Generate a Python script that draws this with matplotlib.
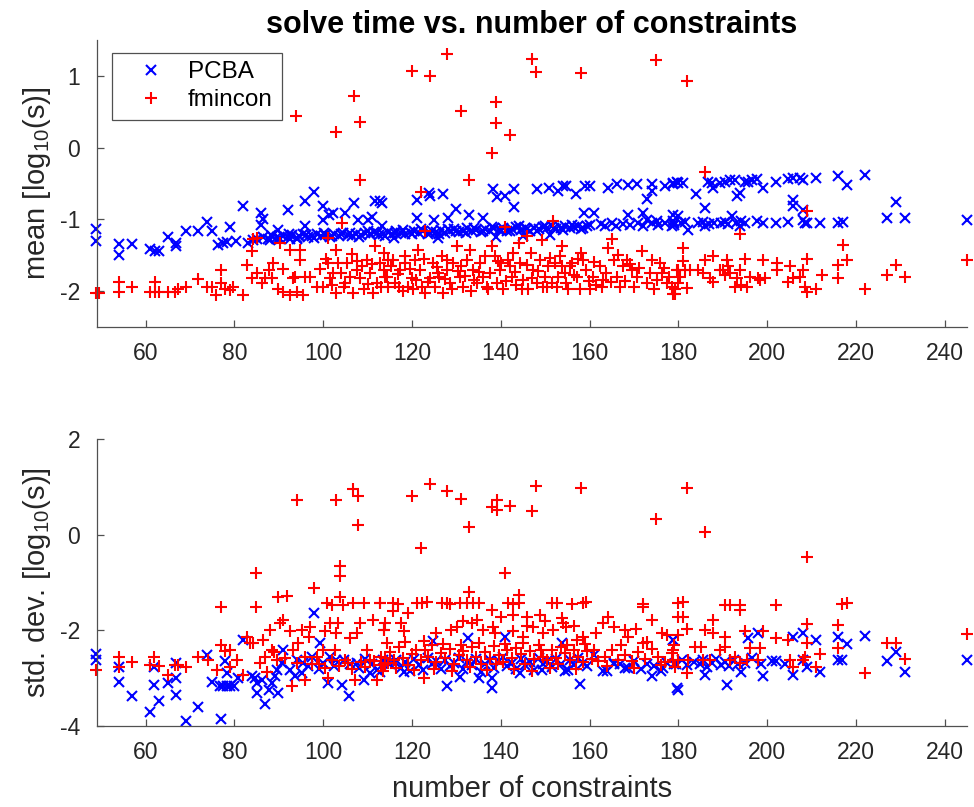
"""Solve time vs. number of constraints: mean and std. dev. of log10 solve time."""

import matplotlib
matplotlib.use("Agg")
import matplotlib.pyplot as plt
import numpy as np

# (number of constraints, log10 seconds)
top_pcba = [
    (48.8, -1.14), (48.8, -1.30), (54.1, -1.35), (54.1, -1.50), (57.0, -1.35),
    (61.0, -1.41), (62.1, -1.44), (63.0, -1.44), (65.0, -1.25), (66.9, -1.33),
    (66.9, -1.37), (69.0, -1.16), (71.7, -1.16), (73.9, -1.04), (75.0, -1.16),
    (76.4, -1.36), (77.5, -1.33), (78.3, -1.32), (79.0, -1.11), (80.3, -1.30),
    (82.0, -0.82), (83.1, -1.33), (84.3, -1.29), (85.9, -0.91), (86.5, -1.00),
    (86.1, -1.08), (88.0, -1.29), (89.5, -1.25), (89.9, -1.15), (92.0, -0.87),
    (92.5, -1.27), (94.0, -1.28), (95.9, -0.75), (95.9, -1.09), (97.9, -0.62),
    (100.0, -0.81), (100.0, -1.01), (101.4, -0.94), (102.2, -0.91), (104.9, -0.91),
    (107.0, -0.78), (107.9, -1.01), (110.2, -1.01), (110.9, -0.97), (111.7, -0.75),
    (112.8, -0.75), (113.2, -1.09), (113.2, -0.77),
    (85.0, -1.27), (86.5, -1.25), (87.5, -1.28), (88.5, -1.24), (90.0, -1.26),
    (91.0, -1.23), (92.0, -1.25), (93.0, -1.22), (94.5, -1.24), (95.5, -1.21),
    (96.5, -1.25), (97.5, -1.23), (98.5, -1.20), (99.5, -1.24), (100.5, -1.22),
    (101.5, -1.25), (102.5, -1.21), (103.5, -1.23), (104.5, -1.19), (105.5, -1.22),
    (106.5, -1.24), (107.5, -1.20), (108.5, -1.22), (109.5, -1.19), (110.5, -1.21),
    (111.5, -1.18), (112.5, -1.22), (113.5, -1.20), (114.5, -1.18), (115.5, -1.21),
    (116.5, -1.17), (117.5, -1.19), (118.5, -1.21), (119.5, -1.18), (120.5, -1.16),
    (121.5, -1.19), (122.5, -1.17), (123.5, -1.20), (124.5, -1.16), (125.5, -1.18),
    (126.5, -1.15), (127.5, -1.19), (128.5, -1.17), (129.5, -1.14), (130.5, -1.18),
    (131.5, -1.16), (132.5, -1.13), (133.5, -1.17), (134.5, -1.15), (135.5, -1.18),
    (136.5, -1.14), (137.5, -1.16), (138.5, -1.13), (139.5, -1.15), (140.5, -1.12),
    (141.5, -1.16), (142.5, -1.14), (143.5, -1.11), (144.5, -1.15), (145.5, -1.13),
    (146.5, -1.16), (147.5, -1.12), (148.5, -1.14), (149.5, -1.11), (150.5, -1.13),
    (151.5, -1.10), (152.5, -1.14), (153.5, -1.12), (154.5, -1.10), (155.5, -1.13),
    (156.5, -1.11), (157.5, -1.09), (158.5, -1.12), (159.5, -1.10),
    (88.2, -1.22), (90.3, -1.28), (92.4, -1.21), (94.2, -1.26), (96.1, -1.22),
    (98.0, -1.26), (100.1, -1.19), (102.0, -1.24), (104.1, -1.21), (106.0, -1.19),
    (108.1, -1.25), (110.0, -1.17), (112.1, -1.19), (114.0, -1.23), (116.1, -1.19),
    (118.0, -1.15), (120.1, -1.21), (122.0, -1.14), (124.1, -1.19), (126.0, -1.21),
    (128.1, -1.14), (130.0, -1.16), (132.1, -1.19), (134.0, -1.12), (136.1, -1.17),
    (138.0, -1.11), (140.1, -1.15), (142.0, -1.17), (144.1, -1.10), (146.0, -1.14),
    (148.1, -1.16), (150.0, -1.09), (152.1, -1.12), (154.0, -1.15), (156.1, -1.08),
    (158.0, -1.14), (160.0, -1.08),
    (116.0, -1.26), (125.9, -1.26), (139.0, -1.25), (145.0, -1.24), (151.0, -1.22),
    (162.5, -1.07), (163.5, -1.09), (165.0, -1.06), (166.0, -1.10), (167.5, -1.07),
    (169.0, -1.08), (171.0, -1.06), (172.0, -1.09), (174.0, -1.05), (175.5, -1.08),
    (177.0, -1.06), (178.5, -1.09),
    (178.9, -1.03), (178.9, -0.94), (182.2, -1.15), (186.0, -1.10), (192.0, -0.96),
    (194.2, -1.03), (193.9, -1.09), (208.1, -1.01), (226.9, -0.98), (231.0, -0.98),
    (244.9, -1.01),
    (179.0, -1.05), (180.5, -1.06), (181.5, -1.04), (184.5, -1.06), (185.5, -1.04),
    (187.0, -1.07), (188.0, -1.05), (189.5, -1.06), (190.5, -1.04), (191.2, -1.07),
    (193.0, -1.05), (195.0, -1.06), (197.8, -1.03), (199.0, -1.05), (202.0, -1.05),
    (204.8, -1.04), (208.5, -1.05), (209.0, -1.06), (212.0, -1.05), (216.0, -1.05),
    (217.0, -1.04),
    (121.1, -0.73), (121.1, -0.99), (123.9, -0.64), (124.1, -0.68), (126.9, -0.65),
    (125.0, -1.01), (129.9, -0.86), (128.2, -0.99), (132.9, -0.94), (136.1, -0.99),
    (138.2, -0.58), (139.1, -0.69), (141.0, -0.68), (143.0, -0.58), (143.0, -0.83),
    (148.1, -0.58), (150.9, -0.57), (153.0, -0.61), (154.1, -0.53), (154.8, -0.53),
    (157.0, -0.65), (159.0, -0.54), (160.0, -0.54), (158.8, -0.91), (160.9, -0.91),
    (164.1, -0.56), (166.1, -0.51), (168.7, -0.52), (170.6, -0.51), (174.0, -0.51),
    (174.0, -0.61), (172.9, -0.72), (168.7, -0.94), (172.1, -0.91), (172.9, -1.01),
    (175.1, -1.03), (177.0, -0.54), (178.9, -0.49), (179.8, -0.48), (179.0, -1.08),
    (180.0, -0.96),
    (178.9, -0.51), (180.0, -0.50), (181.1, -0.50), (183.9, -0.65), (186.7, -0.48),
    (187.5, -0.50), (187.9, -0.57), (189.4, -0.49), (190.5, -0.48), (191.6, -0.45),
    (192.7, -0.46), (193.1, -0.68), (193.9, -0.63), (195.0, -0.48), (195.7, -0.48),
    (196.5, -0.45), (197.8, -0.44), (199.0, -0.56), (202.0, -0.48), (204.8, -0.44),
    (205.9, -0.43), (207.4, -0.43), (208.1, -0.45), (210.9, -0.42), (216.0, -0.40),
    (218.0, -0.52), (222.0, -0.39),
    (205.9, -0.73), (205.9, -0.82), (208.1, -0.87), (186.0, -0.85), (229.0, -0.76),
]

top_fmincon = [
    (48.8, -2.03), (49.5, -2.03), (54.1, -1.88), (54.1, -2.02), (57.0, -1.95),
    (61.0, -2.02), (62.1, -1.88), (62.1, -2.02), (63.0, -2.02), (65.0, -2.02),
    (66.6, -2.02), (67.2, -1.98), (69.0, -1.94), (71.9, -1.84), (73.8, -1.95),
    (74.9, -1.95), (75.9, -2.06), (77.0, -1.71), (77.0, -1.89), (77.9, -1.98),
    (79.0, -1.99), (79.8, -1.94), (82.0, -2.06), (82.8, -1.64), (83.9, -1.45),
    (84.3, -1.28), (85.0, -1.26), (83.9, -1.82), (85.0, -1.75), (86.2, -1.89),
    (86.9, -1.82), (87.7, -1.71), (88.4, -1.82), (88.6, -1.61), (89.9, -1.97),
    (91.0, -2.01), (92.5, -2.06), (94.0, -2.01), (95.5, -2.06), (90.3, -1.33),
    (91.0, -1.70), (92.5, -1.43), (93.3, -1.82), (93.7, -1.80), (94.8, -1.43),
    (94.8, -1.57), (95.9, -1.80), (97.0, -1.80), (93.9, 0.44), (101.0, -1.26),
    (102.9, 0.22), (107.0, 0.72), (108.2, 0.36), (108.2, -0.46),
    (98.5, -1.94), (100.0, -1.94), (101.2, -1.61), (101.5, -1.82), (102.3, -1.75),
    (103.0, -2.03), (103.0, -1.43), (103.4, -1.61), (104.2, -1.06), (104.6, -1.94),
    (105.3, -1.61), (106.0, -1.80), (106.8, -2.03), (107.6, -1.71), (107.6, -1.59),
    (108.3, -1.82), (109.1, -1.98), (109.8, -1.57), (110.6, -1.75), (111.3, -2.03),
    (111.7, -1.38), (112.1, -1.89), (112.8, -1.61), (113.6, -1.71), (114.3, -1.80),
    (114.7, -1.57),
    (99.2, -1.70), (100.6, -1.55), (102.0, -1.92), (104.0, -1.75), (105.0, -1.89),
    (106.4, -1.48), (108.8, -1.66), (110.0, -1.90), (111.0, -1.62), (113.0, -1.94),
    (113.6, -1.47), (113.9, -1.80), (115.8, -1.57), (116.2, -1.89), (117.3, -1.71),
    (118.4, -1.61), (119.2, -1.94), (119.9, -1.82), (120.7, -1.57), (121.4, -1.43),
    (121.8, -1.71), (122.2, -1.94), (122.9, -2.03), (124.1, -1.82), (124.8, -1.61),
    (125.2, -1.94), (125.9, -1.75), (126.7, -1.52), (127.1, -2.03), (127.8, -1.71),
    (128.6, -1.89), (129.3, -1.61), (130.1, -1.38), (130.8, -1.80), (131.6, -1.94),
    (132.3, -1.57), (133.1, -1.43), (133.8, -1.71), (134.6, -1.89), (135.3, -1.61),
    (136.1, -1.80), (136.8, -1.94), (138.0, -1.38), (138.7, -1.52), (139.1, -1.89),
    (139.8, -1.71), (140.6, -1.98), (141.7, -1.57), (142.5, -1.80), (142.8, -1.47),
    (144.0, -1.33), (144.3, -1.61), (145.1, -1.85), (145.8, -1.24), (146.2, -1.98),
    (147.3, -1.71), (148.1, -1.89), (148.8, -1.57), (149.2, -1.29), (150.0, -1.80),
    (150.7, -1.66), (151.5, -1.89), (152.2, -1.61), (153.3, -1.52), (153.7, -1.38),
    (154.5, -1.75), (154.8, -1.89), (156.0, -1.61), (157.1, -1.80), (157.8, -1.98),
    (158.6, -1.57), (159.3, -1.71), (160.1, -1.98), (160.8, -1.80), (162.4, -1.66),
    (163.1, -1.85), (164.2, -1.40), (165.4, -1.57), (166.1, -1.80), (166.9, -1.94),
    (168.4, -1.57), (169.5, -1.71), (170.6, -1.80), (171.7, -1.45), (172.9, -1.89),
    (174.0, -1.57), (175.1, -1.85), (176.2, -1.75), (177.4, -1.89), (178.5, -1.94),
    (179.2, -2.05), (180.0, -1.71),
    (117.0, -1.94), (121.0, -1.85), (126.0, -1.80), (131.0, -1.66), (137.5, -1.75),
    (143.5, -1.92), (149.5, -1.94), (155.5, -1.66), (161.5, -1.92), (167.5, -1.66),
    (118.5, -1.52), (128.0, -1.57), (134.0, -1.85), (140.0, -1.61), (146.8, -1.47),
    (152.8, -1.80), (158.0, -1.47), (163.8, -1.75), (170.0, -1.94), (175.8, -1.61),
    (114.5, -1.95), (115.2, -1.66), (116.8, -1.77), (118.0, -2.00), (119.5, -1.69),
    (120.3, -1.98), (122.8, -1.56), (123.6, -1.88), (125.6, -1.67), (127.4, -1.84),
    (129.0, -1.98), (130.4, -1.73), (132.0, -1.79), (133.4, -2.00), (135.0, -1.74),
    (136.4, -1.52), (137.2, -1.98), (139.4, -1.59), (141.2, -1.86), (142.0, -1.66),
    (143.2, -1.74), (144.8, -1.98), (146.0, -1.64), (147.0, -1.82), (148.4, -1.72),
    (150.4, -1.95), (151.0, -1.54), (152.6, -1.94), (153.9, -1.65), (155.1, -1.98),
    (156.4, -1.78), (157.4, -1.55), (159.8, -1.86), (161.0, -1.60), (162.8, -1.94),
    (164.8, -1.88), (166.4, -1.50), (168.0, -1.86), (169.0, -1.62), (171.2, -1.68),
    (173.5, -1.75), (174.6, -1.98), (176.8, -1.68), (178.0, -1.80),
    (120.0, 1.07), (124.1, 1.00), (128.0, 1.30), (131.0, 0.51), (132.9, -0.46),
    (138.9, 0.64), (138.9, 0.34), (142.1, 0.18), (138.0, -0.07), (147.0, 1.23),
    (147.9, 1.06), (158.0, 1.04), (175.0, 1.22), (122.0, -0.62), (122.9, -1.17),
    (141.0, -1.11), (151.8, -1.02), (165.0, -1.27), (182.0, 0.93), (186.0, -0.34),
    (208.9, -0.88), (193.9, -1.20),
    (180.95, -1.40), (180.95, -1.59), (179.2, -1.98), (178.85, -2.05), (180.0, -1.89),
    (181.9, -1.96), (181.5, -1.71), (180.35, -1.80), (186.0, -1.57), (187.9, -1.51),
    (185.6, -1.75), (187.1, -1.82), (187.9, -1.87), (190.9, -1.57), (191.2, -1.66),
    (191.6, -1.75), (190.1, -1.71), (192.7, -1.94), (193.9, -1.71), (195.0, -1.56),
    (195.4, -1.94), (196.1, -1.80), (198.0, -1.82), (198.4, -1.85), (199.1, -1.57),
    (199.5, -1.82), (202.1, -1.61), (202.1, -1.71), (205.1, -1.66), (204.8, -1.87),
    (205.9, -1.82), (207.4, -1.80), (208.1, -1.71), (208.5, -1.94), (208.9, -1.56),
    (211.1, -1.98), (208.9, -2.01), (212.3, -1.78), (216.0, -1.64), (216.0, -1.82),
    (217.1, -1.36), (218.0, -1.57), (222.0, -1.98), (226.9, -1.78), (229.0, -1.64),
    (231.0, -1.81), (245.1, -1.57),
    (179.6, -1.71), (182.6, -1.71), (184.5, -1.71), (189.4, -1.71), (190.5, -1.78),
    (193.1, -1.82), (194.2, -1.92),
]

bot_pcba = [
    (48.8, -2.50), (48.8, -2.62), (54.1, -2.77), (54.1, -3.08), (57.0, -3.38),
    (61.0, -3.70), (62.0, -2.77), (62.0, -3.15), (63.0, -3.47), (65.0, -3.10),
    (66.9, -2.69), (66.9, -3.00), (66.9, -3.36), (69.0, -3.89), (71.9, -3.61),
    (73.8, -2.51), (75.0, -3.08), (77.0, -3.85), (76.8, -3.17), (77.5, -3.17),
    (78.3, -3.17), (79.0, -3.16), (79.9, -3.16), (77.9, -2.65), (78.3, -2.90),
    (80.9, -3.00), (82.0, -2.20),
    (83.9, -2.96), (84.7, -3.00), (85.0, -3.31), (85.0, -3.10), (86.2, -3.04),
    (86.9, -3.54), (87.7, -3.24), (88.4, -3.10), (89.2, -2.96), (89.9, -3.31),
    (89.5, -2.83), (90.7, -2.69), (91.0, -2.41), (92.5, -2.83), (93.7, -2.96),
    (95.2, -2.90), (95.5, -2.69), (98.0, -1.64), (99.3, -2.27), (100.0, -2.69),
    (101.0, -3.10), (103.0, -2.62), (104.2, -3.14), (105.9, -3.38), (107.6, -2.69),
    (109.1, -3.04), (110.6, -2.90), (112.1, -2.83), (112.8, -2.86), (114.7, -2.69),
    (94.0, -2.62), (96.5, -2.75), (97.5, -2.55), (99.0, -2.80), (101.5, -2.55),
    (102.5, -2.75), (104.8, -2.62), (106.0, -2.70), (108.0, -2.78), (109.5, -2.60),
    (111.0, -2.70), (113.5, -2.62),
    (115.0, -2.70), (116.5, -2.62), (117.5, -2.78), (118.5, -2.66), (119.5, -2.85),
    (120.5, -2.60), (121.5, -2.72), (122.5, -2.82), (123.5, -2.58), (124.5, -2.70),
    (125.5, -2.65), (126.5, -2.80), (127.5, -2.62), (128.5, -2.74), (129.5, -2.68),
    (130.5, -2.57), (131.5, -2.80), (132.5, -2.66), (133.5, -2.72), (134.5, -2.60),
    (135.5, -2.86), (136.5, -2.70), (137.5, -2.62), (138.5, -2.78), (139.5, -2.65),
    (140.5, -2.55), (141.5, -2.74), (142.5, -2.68), (143.5, -2.80), (144.5, -2.60),
    (145.5, -2.72), (146.5, -2.66), (147.5, -2.82), (148.5, -2.58), (149.5, -2.70),
    (150.5, -2.64), (151.5, -2.77), (152.5, -2.60), (153.5, -2.70), (154.5, -2.84),
    (155.5, -2.62), (156.5, -2.72), (157.5, -2.58), (158.5, -2.68), (159.5, -2.75),
    (161.0, -2.52), (164.0, -2.85), (165.5, -2.70), (166.8, -2.70), (168.0, -2.78),
    (170.0, -2.65), (171.5, -2.80), (173.0, -2.70), (174.5, -2.75), (176.0, -2.85),
    (177.5, -2.68), (179.0, -2.70),
    (127.8, -3.17), (138.0, -3.21), (138.0, -3.00), (157.8, -3.12), (179.6, -3.21),
    (178.9, -2.20), (141.0, -2.13), (132.7, -2.16), (124.8, -2.23), (135.0, -3.00),
    (130.8, -2.97), (118.1, -2.86), (144.3, -2.90), (149.2, -2.83), (153.7, -2.27),
    (155.2, -2.83), (163.1, -2.84), (165.4, -2.69), (168.7, -2.79), (174.0, -2.96),
    (176.6, -2.79),
    (178.85, -2.20), (180.0, -3.24), (186.0, -2.93), (190.9, -3.14), (198.0, -2.06),
    (195.7, -2.16), (199.0, -2.95), (205.9, -2.13), (208.1, -2.06), (210.9, -2.20),
    (216.0, -2.13), (218.0, -2.29), (222.0, -2.11), (229.0, -2.46), (226.9, -2.65),
    (231.0, -2.86), (244.9, -2.62), (205.9, -2.93), (208.9, -2.76), (211.9, -2.86),
    (216.0, -2.62), (216.8, -2.62), (202.0, -2.65), (208.1, -2.62), (194.0, -2.86),
    (179.5, -2.70), (180.8, -2.62), (182.0, -2.72), (183.5, -2.66), (184.8, -2.70),
    (185.5, -2.62), (186.5, -2.76), (187.5, -2.68), (188.5, -2.60), (189.5, -2.72),
    (190.5, -2.66), (191.5, -2.74), (192.5, -2.62), (193.5, -2.70), (195.0, -2.68),
    (196.5, -2.58), (198.5, -2.70), (201.0, -2.64), (204.0, -2.70),
]

bot_fmincon = [
    (48.8, -2.83), (54.1, -2.55), (54.1, -2.77), (57.0, -2.67), (61.0, -2.72),
    (62.0, -2.55), (63.0, -2.74), (65.0, -2.93), (66.6, -2.72), (67.4, -2.72),
    (69.0, -2.76), (71.9, -2.55), (74.1, -2.62), (76.0, -2.83), (77.0, -1.50),
    (77.0, -2.30), (77.9, -2.44), (79.0, -2.41), (79.0, -2.76), (80.5, -2.62),
    (82.0, -2.93), (82.8, -2.13), (83.5, -2.27), (84.3, -2.27), (84.9, -0.80),
    (84.9, -1.50), (85.8, -2.69), (86.5, -2.20), (86.9, -2.55), (87.3, -2.86),
    (88.0, -1.99), (88.4, -2.41), (89.5, -2.62), (89.9, -1.29), (90.3, -1.85),
    (91.0, -1.78), (91.8, -1.28), (92.5, -2.02), (92.9, -3.17), (93.3, -2.41),
    (94.0, -2.69), (94.4, -2.27), (95.2, -1.99), (95.9, -3.03), (96.7, -2.13),
    (97.0, -1.92), (98.0, -1.12), (98.5, -2.55), (100.0, -2.41), (100.4, -2.02),
    (100.8, -1.43), (101.2, -3.00), (101.5, -1.85), (101.9, -1.47), (102.7, -2.41),
    (103.0, -2.06), (103.4, -1.85), (103.9, -1.29), (103.9, -0.87), (103.9, -0.66),
    (104.5, -1.47), (104.9, -2.62), (106.0, -2.16), (106.8, -1.43), (107.2, -3.03),
    (107.6, -2.06), (108.3, -1.85), (109.1, -1.43), (109.8, -2.41), (110.6, -2.62),
    (111.3, -1.78), (112.1, -3.03), (112.8, -1.43), (113.6, -1.99), (114.3, -2.27),
    (114.7, -2.69),
    (94.0, 0.73), (102.9, 0.74), (106.8, 0.95), (107.9, 0.81), (107.9, 0.21),
    (99.0, -2.70), (100.5, -2.78), (102.0, -2.62), (103.5, -2.74), (105.5, -2.68),
    (106.5, -2.80), (108.5, -2.66), (109.5, -2.76), (111.5, -2.64), (113.0, -2.72),
    (114.0, -2.58), (96.0, -2.55), (97.5, -2.70), (91.5, -2.58), (89.0, -2.45),
    (120.0, 0.82), (124.1, 1.06), (128.0, 0.91), (131.0, 0.745), (132.9, 0.17),
    (122.0, -0.27), (138.0, 0.59), (139.1, 0.73), (139.1, 0.52), (142.1, 0.60),
    (147.0, 0.50), (147.9, 1.02), (158.0, 0.975), (175.0, 0.33), (141.0, -0.80),
    (132.9, -1.19),
    (112.8, -1.43), (115.8, -1.43), (116.9, -1.45), (121.1, -1.42), (122.2, -1.43),
    (123.3, -1.41), (126.7, -1.43), (127.8, -1.43), (128.6, -1.44), (130.8, -1.42),
    (132.3, -1.43), (133.8, -1.43), (135.0, -1.42), (141.7, -1.43), (142.8, -1.45),
    (144.0, -1.42), (151.5, -1.43), (152.6, -1.42), (156.0, -1.44), (158.6, -1.43),
    (159.3, -1.41), (172.1, -1.45), (180.0, -1.43),
    (144.0, -1.26), (115.8, -1.60), (119.2, -1.64), (138.0, -1.57), (142.8, -1.67),
    (145.8, -1.71), (148.8, -1.67), (153.7, -1.74), (174.0, -1.78), (172.1, -1.50),
    (113.6, -1.99), (113.9, -1.85), (118.1, -2.02), (122.6, -2.23), (128.9, -1.99),
    (130.1, -1.92), (133.5, -1.85), (134.6, -1.78), (138.3, -1.92), (138.7, -2.06),
    (142.8, -2.02), (145.1, -2.13), (147.3, -1.92), (149.6, -2.06), (151.8, -1.99),
    (154.1, -1.85), (154.8, -1.92), (157.1, -2.20), (158.6, -2.13), (163.1, -1.85),
    (164.2, -1.71), (165.4, -1.92), (168.0, -1.99), (168.7, -2.13), (172.1, -2.27),
    (176.2, -2.06), (180.0, -1.71),
    (117.5, -1.85), (125.5, -2.05), (131.5, -1.80), (136.0, -2.00), (140.0, -1.72),
    (146.0, -1.90), (150.0, -1.80), (156.5, -1.90), (161.5, -2.05), (170.5, -1.98),
    (177.5, -2.10),
    (113.0, -2.55), (114.0, -2.70), (115.0, -2.45), (116.0, -2.62), (117.0, -2.35),
    (118.0, -2.58), (119.0, -2.72), (120.0, -2.50), (121.0, -2.40), (122.0, -2.62),
    (122.8, -3.00), (123.5, -2.55), (124.5, -2.30), (125.5, -2.66), (126.5, -2.48),
    (127.5, -2.58), (128.5, -2.38), (129.5, -2.70), (130.5, -2.52), (131.5, -2.44),
    (132.5, -2.62), (133.5, -2.34), (134.5, -2.56), (135.5, -2.70), (136.5, -2.46),
    (137.5, -2.60), (138.5, -2.32), (139.5, -2.52), (140.5, -2.66), (141.5, -2.42),
    (142.5, -2.58), (143.5, -2.36), (144.5, -2.50), (145.5, -2.70), (146.5, -2.44),
    (147.5, -2.60), (148.5, -2.30), (149.5, -2.55), (150.5, -2.62), (151.5, -2.40),
    (152.5, -2.58), (153.5, -2.34), (154.5, -2.48), (155.5, -2.62), (156.5, -2.42),
    (157.5, -2.56), (158.5, -2.66), (159.5, -2.44), (160.5, -2.60), (162.0, -2.65),
    (163.5, -2.55), (165.0, -2.40), (166.5, -2.62), (168.0, -2.52), (169.5, -2.65),
    (171.0, -2.45), (172.5, -2.60), (174.0, -2.38), (175.5, -2.55), (177.0, -2.66),
    (178.5, -2.48), (180.0, -2.62),
    (113.5, -2.85), (116.5, -2.78), (118.5, -2.25), (120.5, -2.82), (123.0, -2.42),
    (125.0, -2.80), (127.0, -2.28), (129.0, -2.84), (131.0, -2.30), (133.0, -2.76),
    (135.0, -2.26), (137.0, -2.82), (139.0, -2.70), (141.0, -2.28), (143.0, -2.80),
    (145.0, -2.26), (147.0, -2.84), (149.0, -2.42), (151.0, -2.78), (153.0, -2.70),
    (155.0, -2.30), (157.0, -2.80), (159.0, -2.28), (161.0, -2.40), (164.0, -2.74),
    (167.0, -2.30), (170.0, -2.78), (173.0, -2.25), (176.0, -2.72), (179.0, -2.30),
    (182.0, 0.975), (186.0, 0.07), (208.9, -0.47),
    (180.95, -1.40), (180.95, -1.71), (182.0, -1.97), (187.9, -1.78), (190.5, -1.47),
    (191.6, -1.47), (193.9, -1.47), (193.9, -1.57), (202.0, -1.47), (216.8, -1.45),
    (217.9, -1.42), (208.9, -1.87), (216.0, -1.88), (245.1, -2.07), (186.0, -1.99),
    (187.9, -2.06), (180.0, -2.09), (183.7, -2.34), (185.2, -2.34), (190.5, -2.13),
    (195.0, -2.02), (199.1, -2.02), (202.0, -2.16), (204.8, -2.20), (208.9, -2.27),
    (216.0, -2.37), (226.9, -2.27), (229.0, -2.27), (231.0, -2.60), (222.0, -2.90),
    (212.0, -2.50), (211.1, -2.76), (205.9, -2.76), (205.1, -2.62), (208.1, -2.62),
    (208.5, -2.55), (198.0, -2.62), (198.4, -2.37), (196.1, -2.37), (195.4, -2.62),
    (193.9, -2.69), (192.7, -2.55), (191.6, -2.62), (190.5, -2.34), (189.4, -2.41),
    (187.1, -2.62), (185.6, -2.62), (182.2, -2.62), (181.9, -2.90), (179.2, -2.76),
    (178.85, -2.62), (178.85, -2.41),
]

XTICKS = [60, 80, 100, 120, 140, 160, 180, 200, 220, 240]
GRAY = "#262626"
AXIS_GRAY = "#505050"


def style(ax):
    for side in ("top", "right"):
        ax.spines[side].set_visible(False)
    for side in ("left", "bottom"):
        ax.spines[side].set_color(AXIS_GRAY)
        ax.spines[side].set_linewidth(0.9)
    ax.tick_params(direction="in", length=5, width=0.9, color=AXIS_GRAY,
                   labelsize=16.5, labelcolor=GRAY)
    ax.tick_params(axis="x", pad=11)
    ax.tick_params(axis="y", pad=12)
    ax.set_xlim(49, 245)
    ax.set_xticks(XTICKS)


def main():
    plt.rcParams["font.family"] = ["Liberation Sans", "DejaVu Sans"]
    plt.rcParams["mathtext.fontset"] = "custom"
    plt.rcParams["mathtext.rm"] = "Liberation Sans"
    plt.rcParams["mathtext.default"] = "regular"
    plt.rcParams["axes.unicode_minus"] = False

    fig = plt.figure(figsize=(9.74, 8.07), dpi=100)
    ax1 = fig.add_axes([0.0993, 0.5952, 0.8935, 0.3552])
    ax2 = fig.add_axes([0.0993, 0.1004, 0.8935, 0.3552])

    mk = dict(linestyle="none", markeredgewidth=1.5, clip_on=False)
    for ax, pcba, fmin in ((ax1, top_pcba, top_fmincon), (ax2, bot_pcba, bot_fmincon)):
        p = np.array(pcba)
        f = np.array(fmin)
        ax.plot(p[:, 0], p[:, 1], "x", color="blue", markersize=6.5, label="PCBA", **mk)
        ax.plot(f[:, 0], f[:, 1], "+", color="red", markersize=8, label="fmincon", **mk)
        style(ax)

    ax1.set_ylim(-2.5, 1.5)
    ax1.set_yticks([-2, -1, 0, 1])
    ax2.set_ylim(-4, 2)
    ax2.set_yticks([-4, -2, 0, 2])

    ax1.set_title("solve time vs. number of constraints", fontsize=22,
                  fontweight="bold", pad=5)
    ax1.set_ylabel("mean [log$_{10}$(s)]", fontsize=21, color=GRAY, labelpad=5)
    ax2.set_ylabel("std. dev. [log$_{10}$(s)]", fontsize=21, color=GRAY, labelpad=5)
    ax2.set_xlabel("number of constraints", fontsize=21, color=GRAY, labelpad=8)

    leg = ax1.legend(loc="upper left", bbox_to_anchor=(0.0176, 0.956),
                     borderaxespad=0, fontsize=17.5, fancybox=False,
                     edgecolor=AXIS_GRAY, framealpha=1, numpoints=1,
                     handlelength=2.5, handletextpad=0.27, borderpad=0.36,
                     labelspacing=0.25)
    leg.get_frame().set_linewidth(0.9)

    fig.savefig("out.png", dpi=100)


if __name__ == "__main__":
    main()
